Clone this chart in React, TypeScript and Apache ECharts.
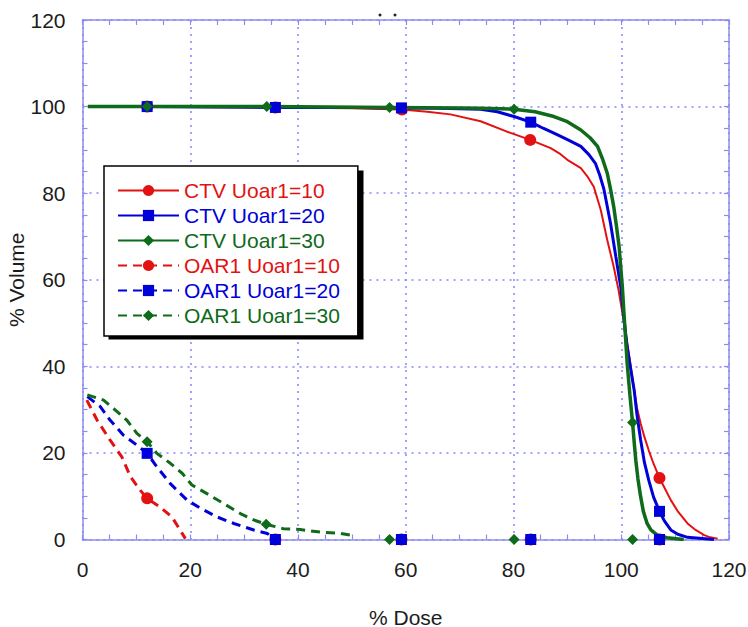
import React, { useEffect, useRef } from "react";
import * as echarts from "echarts";

type Pt = [number, number];

// ---------- data ----------
const seriesNames = [
  "CTV Uoar1=10",
  "CTV Uoar1=20",
  "CTV Uoar1=30",
  "OAR1 Uoar1=10",
  "OAR1 Uoar1=20",
  "OAR1 Uoar1=30",
];

// CTV Uoar1=10
const ctv10Line: Pt[] = [
  [1, 100], [18, 99.9], [50, 99.6], [64, 98.8], [68.3, 98.2], [73.9, 96.6],
  [78.8, 94.2], [86.9, 90.4], [88.5, 89.2], [90, 87.7], [92.5, 85.8], [93.7, 83.9],
  [94.9, 81.5], [96.2, 76.1], [97.4, 69.2], [98.6, 63], [99.5, 57.6], [100.4, 51],
  [101.4, 43], [101.9, 38.8], [102.4, 34.5], [102.9, 30.5], [103.6, 26.8],
  [104.3, 23.7], [105.1, 20.6], [106, 17.5], [108, 12], [109.2, 9.1], [110.5, 6.5],
  [112.3, 3.7], [113.8, 2.2], [115.4, 1.0], [116.5, 0.5], [117.9, 0.2],
];
const ctv10Marks: Pt[] = [[12, 100], [35.8, 99.8], [59.3, 99.3], [83.1, 92.3], [107.1, 14.2]];

// CTV Uoar1=20
const ctv20Line: Pt[] = [
  [1, 100], [50, 99.8], [66, 99.6], [70, 99.5], [73.9, 99.4], [77, 98.8], [80.1, 97.7],
  [85.5, 95.0], [88.1, 93.5], [90.3, 92.2], [92.5, 90.8], [94, 88.9], [95.2, 86.9],
  [96, 84.2], [96.8, 80.8], [98, 73.1], [99, 65.3], [99.9, 58.4], [100.5, 51],
  [101.1, 44.5], [101.7, 39.8], [102.4, 34.5], [102.9, 29], [103.6, 23], [104.3, 17.8],
  [105.1, 13.7], [106, 9.8], [108, 4.3], [109.2, 2.2], [110.5, 1.2], [112.3, 0.5],
  [117.2, 0],
];
const ctv20Marks: Pt[] = [[12, 100], [35.8, 99.8], [59.2, 99.7], [83.2, 96.4], [107.1, 6.5]];

// CTV Uoar1=30
const ctv30Line: Pt[] = [
  [1, 100], [70, 99.7], [74, 99.6], [84, 98.8], [87.5, 97.7], [90, 96.5], [92.5, 94.6],
  [94.2, 92.8], [95.6, 90.8], [96.5, 88], [97.4, 84.6], [98, 81], [98.6, 76.9],
  [99.1, 72.5], [99.6, 67.7], [99.9, 63], [100.2, 58.4], [100.5, 52.3], [101.1, 40.7],
  [101.6, 33.5], [102.4, 22.5], [102.7, 18.3], [103.1, 14], [103.6, 9.9], [104.1, 6.5],
  [104.8, 3.7], [105.5, 2.2], [106.7, 1.0], [108.5, 0.4], [111.6, 0],
];
const ctv30Marks: Pt[] = [[12, 100], [34.2, 100], [57, 99.8], [80.1, 99.4], [102.1, 27]];

// OAR1 Uoar1=10
const oar10Line: Pt[] = [
  [0.8, 32.2], [2.7, 27.6], [5.1, 23], [7.3, 19.1], [8.9, 14.5], [10.7, 11.4],
  [14.4, 7.5], [16.6, 5.2], [18.1, 2.2], [19.1, 0.2],
];
const oar10Marks: Pt[] = [[12, 9.5]];
const oar10Zero: Pt[] = [[35.8, 0], [59.2, 0], [83.2, 0], [107.1, 0]];

// OAR1 Uoar1=20
const oar20Line: Pt[] = [
  [0.9, 33], [3.3, 30.7], [5.1, 27.6], [7.6, 24.1], [10.1, 21.8], [13.8, 16.8],
  [16.3, 12.9], [19.4, 9.1], [21.9, 7.2], [25, 5.2], [28.1, 3.7], [31.8, 2.2], [34.3, 1.4],
];
const oar20Marks: Pt[] = [[12, 19.9], [35.8, 0]];
const oar20Zero: Pt[] = [[59.2, 0], [83.2, 0], [107.1, 0]];

// OAR1 Uoar1=30
const oar30Line: Pt[] = [
  [0.9, 33.4], [3.9, 32.2], [6.1, 29.9], [8.2, 27.6], [10.1, 24.5], [13.8, 19.9],
  [16.3, 17.6], [18.5, 15.3], [20.3, 12.6], [23.1, 10.6], [26.2, 8.3], [29.3, 6],
  [31.8, 4.5], [37.3, 2.5], [40.4, 2.3], [44.2, 1.7], [47.9, 1.4], [50.7, 0.8],
];
const oar30Marks: Pt[] = [[12, 22.6], [34.1, 3.5]];
const oar30Zero: Pt[] = [[57, 0], [80.1, 0], [102.1, 0]];

// ---------- styling ----------
const RED = "#e31212";
const BLUE = "#0000d8";
const GREEN = "#0f6a1a";
const AXIS = "#8c8cf0";
const GRIDC = "#8585ff";
const TXT = "#1c1c1c";
const FONT = "'Liberation Sans', Arial, Helvetica, sans-serif";

function buildData(line: Pt[], marks: Pt[], isolated: Pt[]) {
  const items: any[] = [
    ...line.map((p) => ({ value: p, symbol: "none" })),
    ...marks.map((p) => ({ value: p })),
  ].sort((a, b) => a.value[0] - b.value[0]);
  let prevX = items.length ? items[items.length - 1].value[0] : 0;
  isolated.forEach((p) => {
    items.push({ value: [(prevX + p[0]) / 2, "-"], symbol: "none" });
    items.push({ value: p });
    prevX = p[0];
  });
  return items;
}

function mkSeries(
  name: string,
  color: string,
  symbol: string,
  symbolSize: number,
  width: number,
  dashed: boolean,
  data: any[]
) {
  return {
    type: "line",
    name,
    data,
    symbol,
    symbolSize,
    showSymbol: true,
    connectNulls: false,
    clip: true,
    lineStyle: { color, width, type: dashed ? [9, 6] : "solid" },
    itemStyle: { color },
    emphasis: { disabled: true },
  };
}

export default function App() {
  const ref = useRef<HTMLDivElement>(null);

  useEffect(() => {
    if (!ref.current) return;
    const chart = echarts.init(ref.current, undefined, { renderer: "svg" });

    const colors = [RED, BLUE, GREEN, RED, BLUE, GREEN];

    const axisCommon = {
      type: "value",
      min: 0,
      max: 120,
      interval: 20,
      axisLine: { show: true, onZero: false, lineStyle: { color: AXIS, width: 1.5 } },
      axisTick: { show: true, inside: true, length: 5, lineStyle: { color: AXIS, width: 1.2 } },
      minorTick: { show: true, splitNumber: 4, length: 5, lineStyle: { color: AXIS, width: 1.2 } },
    };

    const option: any = {
      animation: false,
      backgroundColor: "#ffffff",
      textStyle: { fontFamily: FONT },
      grid: { left: 82.5, right: 19, top: 20, bottom: 87.5, containLabel: false, outerBoundsMode: "none" },
      xAxis: [
        {
          ...axisCommon,
          position: "bottom",
          axisLabel: { fontSize: 21, color: TXT, margin: 19, fontFamily: FONT },
          splitLine: { show: true, lineStyle: { color: GRIDC, type: [2, 5], width: 1.5 } },
          name: "% Dose",
          nameLocation: "middle",
          nameGap: 67,
          nameMoveOverlap: false,
          nameTextStyle: { fontSize: 21, color: TXT, fontFamily: FONT },
        },
        {
          ...axisCommon,
          position: "top",
          axisLabel: { show: false },
          splitLine: { show: false },
        },
      ],
      yAxis: [
        {
          ...axisCommon,
          position: "left",
          axisLabel: { fontSize: 21, color: TXT, margin: 17, fontFamily: FONT },
          splitLine: { show: true, lineStyle: { color: GRIDC, type: [2, 5], width: 1.5 } },
          name: "% Volume",
          nameLocation: "middle",
          nameGap: 56,
          nameMoveOverlap: false,
          nameTextStyle: { fontSize: 21, color: TXT, fontFamily: FONT },
        },
        {
          ...axisCommon,
          position: "right",
          axisLabel: { show: false },
          splitLine: { show: false },
        },
      ],
      legend: {
        left: 104,
        top: 166,
        orient: "vertical",
        padding: [14, 18, 10, 13],
        itemWidth: 61,
        itemHeight: 14,
        itemGap: 4,
        itemTextGap: 7,
        backgroundColor: "#ffffff",
        borderColor: "#000000",
        borderWidth: 1.5,
        selectedMode: false,
        textStyle: { fontSize: 21, fontFamily: FONT },
        data: seriesNames.map((n, i) => ({ name: n, textStyle: { color: colors[i] } })),
      },
      graphic: [
        {
          type: "rect",
          z: 3,
          shape: { x: 108.5, y: 170.5, width: 255, height: 169 },
          style: { fill: "#000000" },
        },
        { type: "circle", shape: { cx: 380, cy: 15, r: 1.5 }, style: { fill: "#222" } },
        { type: "circle", shape: { cx: 395, cy: 15, r: 1.5 }, style: { fill: "#222" } },
      ],
      series: [
        mkSeries(seriesNames[0], RED, "circle", 12, 2, false, buildData(ctv10Line, ctv10Marks, [])),
        mkSeries(seriesNames[1], BLUE, "rect", 11, 3, false, buildData(ctv20Line, ctv20Marks, [])),
        mkSeries(seriesNames[2], GREEN, "diamond", 11, 3.5, false, buildData(ctv30Line, ctv30Marks, [])),
        mkSeries(seriesNames[3], RED, "circle", 12, 3, true, buildData(oar10Line, oar10Marks, oar10Zero)),
        mkSeries(seriesNames[4], BLUE, "rect", 11, 3, true, buildData(oar20Line, oar20Marks, oar20Zero)),
        mkSeries(seriesNames[5], GREEN, "diamond", 11, 3, true, buildData(oar30Line, oar30Marks, oar30Zero)),
      ],
    };

    chart.setOption(option);
    return () => chart.dispose();
  }, []);

  return (
    <div
      ref={ref}
      style={{ position: "fixed", left: 0, top: 0, width: 748, height: 627, background: "#fff" }}
    />
  );
}
